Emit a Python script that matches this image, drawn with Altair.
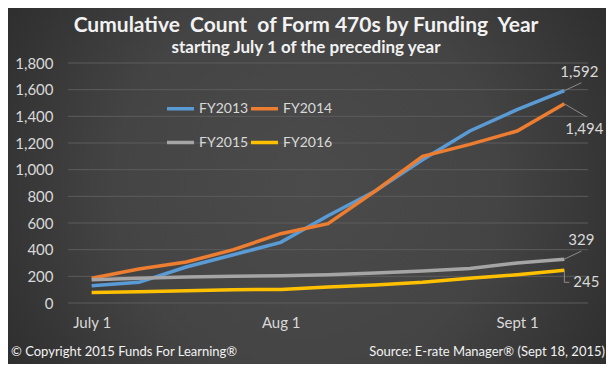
import json
import altair as alt
import pandas as pd

# ---- data ----
periods = ["July 1", "", "", "", "Aug 1", "", "", "", "", "Sept 1", ""]
series_names = ["FY2013", "FY2014", "FY2015", "FY2016"]
fy2013 = [130, 155, 270, 362, 455, 655, 840, 1075, 1290, 1450, 1592]
fy2014 = [185, 255, 307, 400, 520, 595, 840, 1100, 1190, 1290, 1494]
fy2015 = [175, 185, 195, 200, 205, 212, 225, 240, 258, 300, 329]
fy2016 = [78, 85, 92, 100, 102, 120, 135, 155, 185, 212, 245]
colors = ["#5b9bd5", "#ed7d31", "#a5a5a5", "#ffc000"]
y_ticks = list(range(0, 1801, 200))

NB = "\u00a0"
title_text = "Cumulative" + NB + NB + "Count" + NB + NB + "of Form 470s by Funding" + NB + NB + "Year"
subtitle_text = "starting July 1 of the preceding year"
footer_left = "© Copyright 2015 Funds For Learning®"
footer_right = "Source: E-rate Manager® (Sept 18, 2015)"

rows = []
for name, vals in zip(series_names, [fy2013, fy2014, fy2015, fy2016]):
    for i, v in enumerate(vals):
        rows.append({"i": i, "series": name, "value": v})
df = pd.DataFrame(rows)
last = df[df["i"] == len(periods) - 1]
grid_df = pd.DataFrame({"value": y_ticks})

W, H = 520, 240
FONT = "Lato"
TXT = "#d9d9d9"

x_vals = [i for i, p in enumerate(periods) if p]
label_expr = json.dumps(periods) + "[datum.value]"

x_scale = alt.Scale(domain=[-0.5, len(periods) - 0.5], nice=False, zero=False)
y_scale = alt.Scale(domain=[0, 1800], nice=False)

x_axis = alt.Axis(values=x_vals, labelExpr=label_expr, title=None, grid=False,
                  ticks=False, domain=False, labelPadding=12, labelFontSize=15,
                  labelColor=TXT, labelFont=FONT, labelFlush=False, zindex=1)
y_axis = alt.Axis(values=y_ticks, format=",.0f", title=None, ticks=False, domain=False,
                  grid=False, labelPadding=15, labelFontSize=15, labelColor=TXT,
                  labelFont=FONT, labelOverlap=False, zindex=1)

one = pd.DataFrame({"a": [0]})

bg = alt.Chart(one).mark_rect(
    fill={
        "gradient": "radial",
        "x1": 0.5, "y1": 0.5, "r1": 0,
        "x2": 0.5, "y2": 0.5, "r2": 0.6,
        "stops": [
            {"offset": 0, "color": "#4b4b4b"},
            {"offset": 0.4, "color": "#444444"},
            {"offset": 1, "color": "#1c1c1c"},
        ],
    }
).encode(x=alt.value(-60), x2=alt.value(538), y=alt.value(-55 - 222), y2=alt.value(301 + 222))

grid = alt.Chart(grid_df).mark_rule(color="#5c5c5c", strokeWidth=1).encode(
    y=alt.Y("value:Q", scale=y_scale, axis=None), x=alt.value(0), x2=alt.value(W)
)

lines = alt.Chart(df).mark_line(strokeWidth=3.5).encode(
    x=alt.X("i:Q", scale=x_scale, axis=x_axis),
    y=alt.Y("value:Q", scale=y_scale, axis=y_axis),
    color=alt.Color(
        "series:N",
        scale=alt.Scale(domain=series_names, range=colors),
        legend=alt.Legend(orient="none", legendX=97, legendY=30, columns=2, direction="horizontal",
                          title=None, symbolType="stroke", symbolSize=729, symbolStrokeWidth=3.5,
                          labelFontSize=14, labelColor=TXT, labelFont=FONT,
                          columnPadding=-5, rowPadding=11, labelOffset=3, padding=0),
    ),
    order="i:Q",
)

# end labels: (dx, dy) for text, leader segments as (xoff, yoff, x2off, y2off)
label_style = {
    "FY2013": {"dx": 15, "dy": -19, "legs": [(0, 0, 17, -8)]},
    "FY2014": {"dx": 20, "dy": 25, "legs": [(0, 0, 22, 13)]},
    "FY2015": {"dx": 17, "dy": -19, "legs": [(0, 0, 17, -8)]},
    "FY2016": {"dx": 22, "dy": 12, "legs": [(0, 0, 0, 12), (0, 12, 5, 12)]},
}

end_layers = []
for name in series_names:
    d = last[last["series"] == name]
    st = label_style[name]
    end_layers.append(
        alt.Chart(d).mark_text(dx=st["dx"], dy=st["dy"], fontSize=15, font=FONT,
                               color=TXT, align="center", baseline="middle").encode(
            x=alt.X("i:Q", axis=None), y=alt.Y("value:Q", axis=None),
            text=alt.Text("value:Q", format=",.0f")
        )
    )
    for (xo, yo, x2o, y2o) in st["legs"]:
        end_layers.append(
            alt.Chart(d).mark_rule(color="#8c8c8c", strokeWidth=1, xOffset=xo, yOffset=yo,
                                   x2Offset=x2o, y2Offset=y2o).encode(
                x=alt.X("i:Q", axis=None), y=alt.Y("value:Q", axis=None),
                x2="i:Q", y2="value:Q"
            )
        )

title = alt.Chart(one).mark_text(text=title_text, fontSize=21, fontWeight="bold", font=FONT,
                                 color="#f2f2f2", align="center", baseline="middle").encode(
    x=alt.value(238), y=alt.value(-37))
subtitle = alt.Chart(one).mark_text(text=subtitle_text, fontSize=17, fontWeight="bold", font=FONT,
                                    color="#f2f2f2", align="center", baseline="middle").encode(
    x=alt.value(238), y=alt.value(-15))
foot_l = alt.Chart(one).mark_text(text=footer_left, fontSize=13, font=FONT, color="#f2f2f2",
                                  align="left", baseline="middle").encode(
    x=alt.value(-57), y=alt.value(289))
foot_r = alt.Chart(one).mark_text(text=footer_right, fontSize=13, font=FONT, color="#f2f2f2",
                                  align="right", baseline="middle").encode(
    x=alt.value(537), y=alt.value(289))

chart = alt.layer(bg, grid, lines, *end_layers, title, subtitle, foot_l, foot_r).resolve_axis(
    x="independent", y="independent"
).properties(
    width=W, height=H,
    padding={"left": 60, "top": 55, "right": 18, "bottom": 61},
    autosize=alt.AutoSizeParams(type="none"),
    background="#262626",
).configure_view(stroke=None)

chart.save("out.html", embed_options={"renderer": "svg", "actions": False})
